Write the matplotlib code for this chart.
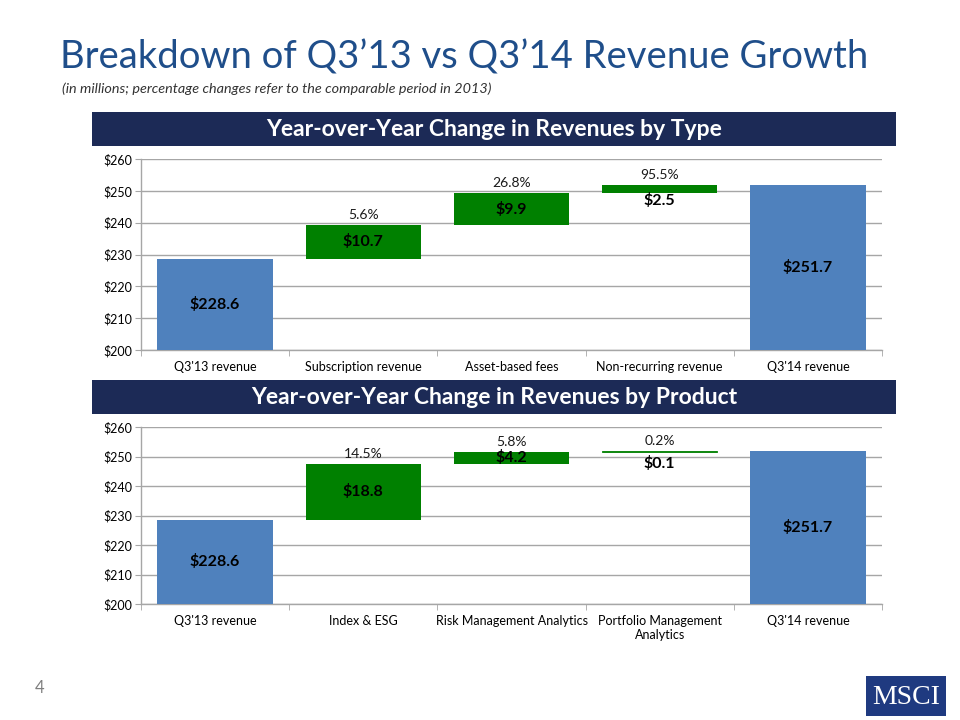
import matplotlib.pyplot as plt
from matplotlib.patches import Rectangle

plt.rcParams['font.family'] = ['Lato', 'DejaVu Sans']

#%% datos
type_cats = ["Q3'13 revenue", 'Subscription revenue', 'Asset-based fees',
             'Non-recurring revenue', "Q3'14 revenue"]
type_deltas = [10.7, 9.9, 2.5]
type_pcts = ['5.6%', '26.8%', '95.5%']

prod_cats = ["Q3'13 revenue", 'Index & ESG', 'Risk Management Analytics',
             'Portfolio Management\nAnalytics', "Q3'14 revenue"]
prod_deltas = [18.8, 4.2, 0.1]
prod_pcts = ['14.5%', '5.8%', '0.2%']

start_rev = 228.6
end_rev = 251.7
yticks = [200, 210, 220, 230, 240, 250, 260]

blue = '#4F81BD'
green = '#008000'
navy = '#1C2A56'
title_col = '#1F4E8A'
grid_col = '#A6A6A6'

W, H = 960, 720
fig = plt.figure(figsize=(9.6, 7.2), dpi=100)


def px_axes(left, top, right, bottom):
    return fig.add_axes([left / W, 1 - bottom / H, (right - left) / W, (bottom - top) / H])


def band(top, bottom, text):
    fig.patches.append(Rectangle((92 / W, 1 - bottom / H), (896 - 92) / W, (bottom - top) / H,
                                 transform=fig.transFigure, facecolor=navy, edgecolor='none'))
    fig.text(494 / W, 1 - (top + bottom) / 2 / H, text, color='white', fontsize=16.5,
             fontweight='bold', ha='center', va='center')


def waterfall(ax, cats, deltas, pcts, small_below, below_off):
    x = list(range(len(cats)))
    # barras totales
    ax.bar([0, 4], [start_rev - 200, end_rev - 200], bottom=200, width=0.78,
           color=blue, zorder=3)
    # barras de cambio
    base = start_rev
    for i, (d, p) in enumerate(zip(deltas, pcts)):
        xi = i + 1
        ax.bar(xi, d, bottom=base, width=0.78, color=green, edgecolor=green,
               linewidth=0.6 if d < 0.5 else 0, zorder=3)
        top = base + d
        ax.annotate(p, (xi, top), xytext=(0, 3), textcoords='offset points',
                    ha='center', va='bottom', fontsize=10, color='#1a1a1a')
        if small_below[i]:
            ax.annotate('$%.1f' % d, (xi, base), xytext=(0, below_off), textcoords='offset points',
                        ha='center', va='top', fontsize=11.5, fontweight='bold')
        else:
            ax.text(xi, base + d / 2, '$%.1f' % d, ha='center', va='center',
                    fontsize=11.5, fontweight='bold')
        base = top
    ax.text(0, (start_rev + 200) / 2, '$%.1f' % start_rev, ha='center', va='center',
            fontsize=11.5, fontweight='bold')
    ax.text(4, (end_rev + 200) / 2, '$%.1f' % end_rev, ha='center', va='center',
            fontsize=11.5, fontweight='bold')

    ax.set_xlim(-0.5, 4.5)
    ax.set_ylim(200, 260)
    ax.set_yticks(yticks)
    ax.set_yticklabels(['$%d' % v for v in yticks])
    ax.set_xticks(x)
    ax.set_xticklabels(cats)
    ax.set_xticks([-0.5, 0.5, 1.5, 2.5, 3.5, 4.5], minor=True)
    ax.tick_params(axis='x', which='major', length=0, pad=8, labelsize=9)
    ax.tick_params(axis='x', which='minor', length=4, color=grid_col, direction='out')
    ax.tick_params(axis='y', length=4, color=grid_col, labelsize=9, pad=2)
    ax.grid(axis='y', color=grid_col, linewidth=1, zorder=0)
    ax.set_axisbelow(True)
    for s in ['top', 'right']:
        ax.spines[s].set_visible(False)
    for s in ['left', 'bottom']:
        ax.spines[s].set_color(grid_col)
        ax.spines[s].set_linewidth(1)


#%% titulo
fig.text(60 / W, 1 - 57 / H, 'Breakdown of Q3\u201913 vs Q3\u201914 Revenue Growth', color=title_col,
         fontsize=27.5, ha='left', va='center')
fig.text(62 / W, 1 - 89 / H, '(in millions; percentage changes refer to the comparable period in 2013)',
         color='#333333', fontsize=10.4, style='italic', ha='left', va='center')

#%% graficas
band(112, 146, 'Year-over-Year Change in Revenues by Type')
ax1 = px_axes(141, 159, 882, 350)
waterfall(ax1, type_cats, type_deltas, type_pcts, [False, False, True], 0)

band(380, 414, 'Year-over-Year Change in Revenues by Product')
ax2 = px_axes(141, 427, 882, 604)
waterfall(ax2, prod_cats, prod_deltas, prod_pcts, [False, False, True], -3)

#%% pie de pagina
fig.text(40 / W, 1 - 688 / H, '4', color='#7F7F7F', fontsize=12, ha='center', va='center')
fig.patches.append(Rectangle((866 / W, 1 - 716 / H), 80 / W, 40 / H, transform=fig.transFigure,
                             facecolor='#1F3A80', edgecolor='none'))
fig.text(906 / W, 1 - 697 / H, 'MSCI', color='white', fontsize=20, family='Liberation Serif',
         ha='center', va='center')

fig.savefig('out.png', dpi=100)
